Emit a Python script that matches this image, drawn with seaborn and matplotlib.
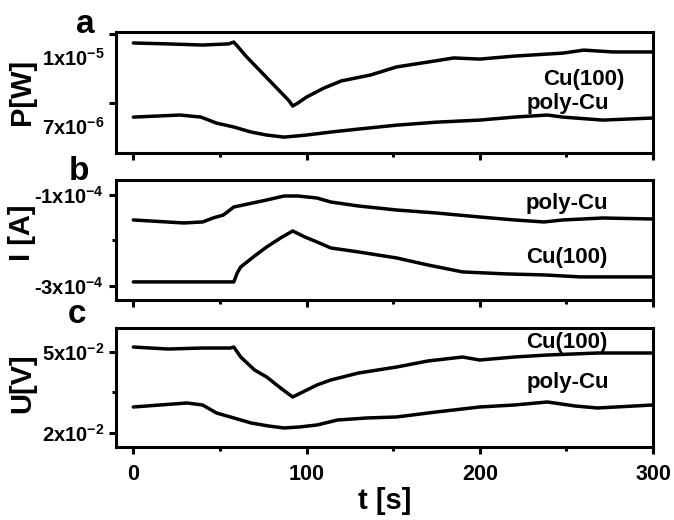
import numpy as np
import pandas as pd
import seaborn as sns
import matplotlib.pyplot as plt
import matplotlib.transforms as mtransforms
from matplotlib.ticker import MultipleLocator, FixedLocator

# ---- data ----
# panel a: P [W]
t_a_cu = [0, 20, 40, 55, 58, 60, 65, 70, 80, 90, 92, 95, 100, 110, 120, 137, 152,
          170, 185, 200, 220, 248, 260, 277, 300]
p_cu = [9.61e-6, 9.57e-6, 9.52e-6, 9.57e-6, 9.65e-6, 9.48e-6, 9.04e-6, 8.65e-6,
        7.87e-6, 7.09e-6, 6.87e-6, 7.00e-6, 7.26e-6, 7.65e-6, 7.96e-6, 8.22e-6,
        8.57e-6, 8.78e-6, 8.96e-6, 8.91e-6, 9.04e-6, 9.17e-6, 9.30e-6, 9.22e-6, 9.22e-6]
t_a_poly = [0, 27, 39, 48, 58, 68, 77, 87, 100, 114, 130, 152, 175, 200, 220, 239,
            248, 271, 300]
p_poly = [6.39e-6, 6.48e-6, 6.39e-6, 6.13e-6, 5.96e-6, 5.74e-6, 5.61e-6, 5.52e-6,
          5.61e-6, 5.74e-6, 5.87e-6, 6.04e-6, 6.17e-6, 6.26e-6, 6.39e-6, 6.48e-6,
          6.39e-6, 6.26e-6, 6.35e-6]

# panel b: I [A]
t_b_poly = [0, 29, 40, 46, 52, 58, 77, 87, 95, 106, 114, 130, 152, 175, 200, 220,
            237, 248, 271, 300]
i_poly = [-1.549e-4, -1.615e-4, -1.593e-4, -1.506e-4, -1.44e-4, -1.264e-4, -1.110e-4,
          -1.022e-4, -1.022e-4, -1.066e-4, -1.154e-4, -1.242e-4, -1.330e-4, -1.396e-4,
          -1.484e-4, -1.549e-4, -1.593e-4, -1.549e-4, -1.506e-4, -1.528e-4]
t_b_cu = [0, 30, 56, 58, 60, 62, 70, 77, 85, 92, 99, 106, 114, 130, 152, 170, 190,
          215, 237, 258, 300]
i_cu = [-2.912e-4, -2.912e-4, -2.912e-4, -2.912e-4, -2.714e-4, -2.583e-4, -2.341e-4,
        -2.143e-4, -1.945e-4, -1.791e-4, -1.923e-4, -2.033e-4, -2.165e-4, -2.253e-4,
        -2.385e-4, -2.539e-4, -2.692e-4, -2.736e-4, -2.758e-4, -2.802e-4, -2.802e-4]

# panel c: U [V]
t_c_cu = [0, 20, 40, 56, 58, 62, 70, 77, 85, 92, 99, 106, 114, 130, 152, 170, 190,
          200, 220, 239, 268, 300]
u_cu = [0.05185, 0.05111, 0.05148, 0.05148, 0.05185, 0.04815, 0.04333, 0.04074,
        0.03667, 0.03333, 0.03556, 0.03778, 0.03963, 0.04222, 0.04444, 0.04667,
        0.04815, 0.04704, 0.04815, 0.04889, 0.04963, 0.04963]
t_c_poly = [0, 31, 40, 48, 58, 68, 78, 87, 96, 106, 118, 135, 152, 175, 200, 220,
            239, 255, 268, 300]
u_poly = [0.02963, 0.03111, 0.03037, 0.02741, 0.02556, 0.02370, 0.02259, 0.02185,
          0.02222, 0.02296, 0.02481, 0.02556, 0.02593, 0.02778, 0.02963, 0.03037,
          0.03148, 0.03000, 0.02926, 0.03037]

x_ticks = [0, 100, 200, 300]
x_tick_labels = ['0', '100', '200', '300']

sns.set_style('ticks')
plt.rcParams['font.family'] = ['Liberation Sans', 'DejaVu Sans']
plt.rcParams['font.weight'] = 'bold'
plt.rcParams['text.color'] = 'black'
plt.rcParams['xtick.color'] = 'black'
plt.rcParams['ytick.color'] = 'black'
plt.rcParams['axes.labelcolor'] = 'black'
plt.rcParams['mathtext.fontset'] = 'custom'
plt.rcParams['mathtext.rm'] = 'Liberation Sans:bold'
plt.rcParams['mathtext.bf'] = 'Liberation Sans:bold'
plt.rcParams['mathtext.default'] = 'bf'

fig = plt.figure(figsize=(6.74, 5.2), dpi=100)
W, H = 674, 520


def make_ax(top_px, bottom_px):
    return fig.add_axes([116 / W, 1 - bottom_px / H, (653 - 116) / W, (bottom_px - top_px) / H])


ax_a = make_ax(32, 153)
ax_b = make_ax(180, 300)
ax_c = make_ax(328, 447)

lw = 2.5
sns.lineplot(x=t_a_cu, y=p_cu, ax=ax_a, color='black', lw=lw)
sns.lineplot(x=t_a_poly, y=p_poly, ax=ax_a, color='black', lw=lw)
sns.lineplot(x=t_b_poly, y=i_poly, ax=ax_b, color='black', lw=lw)
sns.lineplot(x=t_b_cu, y=i_cu, ax=ax_b, color='black', lw=lw)
sns.lineplot(x=t_c_cu, y=u_cu, ax=ax_c, color='black', lw=lw)
sns.lineplot(x=t_c_poly, y=u_poly, ax=ax_c, color='black', lw=lw)

for ax in (ax_a, ax_b, ax_c):
    ax.set_xlim(-10, 300)
    ax.xaxis.set_major_locator(FixedLocator(x_ticks))
    ax.xaxis.set_minor_locator(MultipleLocator(50))
    for s in ax.spines.values():
        s.set_linewidth(2.2)
        s.set_color('black')
    ax.tick_params(which='major', direction='out', length=5, width=2.2, labelsize=14.5,
                   color='black', labelcolor='black')
    ax.tick_params(which='minor', direction='out', length=3, width=2.2, color='black')
    ax.tick_params(axis='x', which='major', pad=7)
    ax.set_xlabel('')
    ax.set_ylabel('')
    if ax is not ax_c:
        ax.set_xticklabels([])

ax_c.set_xticklabels(x_tick_labels, fontsize=15.5, fontweight='bold')

# panel a
ax_a.set_ylim(4.83e-6, 1.0087e-5)
ax_a.set_yticks([1e-5, 7e-6])
ax_a.set_yticklabels([r'1x10$^{-5}$', r'7x10$^{-6}$'], fontsize=14.5)
off = mtransforms.ScaledTranslation(0, -0.23, fig.dpi_scale_trans)
for tick in ax_a.yaxis.get_major_ticks():
    tick.label1.set_transform(tick.label1.get_transform() + off)

# panel b
ax_b.set_ylim(-3.31e-4, -0.67e-4)
ax_b.set_yticks([-1e-4, -3e-4])
ax_b.set_yticks([-2e-4], minor=True)
ax_b.set_yticklabels([r'-1x10$^{-4}$', r'-3x10$^{-4}$'], fontsize=14.5)

# panel c
ax_c.set_ylim(0.0148, 0.0589)
ax_c.set_yticks([0.05, 0.02])
ax_c.set_yticks([0.035], minor=True)
ax_c.set_yticklabels([r'5x10$^{-2}$', r'2x10$^{-2}$'], fontsize=14.5)

# curve names
lab = dict(fontsize=16, fontweight='bold', ha='center', va='center')
ax_a.text(260, 8.02e-6, 'Cu(100)', **lab)
ax_a.text(251, 7.0e-6, 'poly-Cu', **lab)
ax_b.text(250, -1.18e-4, 'poly-Cu', **lab)
ax_b.text(250, -2.37e-4, 'Cu(100)', **lab)
ax_c.text(250, 0.0534, 'Cu(100)', **lab)
ax_c.text(251, 0.0386, 'poly-Cu', **lab)

ax_c.set_xlabel('t [s]', fontsize=21, fontweight='bold', labelpad=2)

# axis names and panel letters
ylab = dict(rotation=90, ha='center', va='center', fontsize=21, fontweight='bold')
fig.text(22 / W, 1 - 92 / H, 'P[W]', **ylab)
fig.text(22 / W, 1 - 233 / H, 'I [A]', **ylab)
fig.text(22 / W, 1 - 383 / H, 'U[V]', **ylab)
let = dict(ha='center', va='baseline', fontsize=24, fontweight='bold')
fig.text(85 / W, 1 - 33 / H, 'a', **let)
fig.text(79 / W, 1 - 180 / H, 'b', **let)
fig.text(77 / W, 1 - 323 / H, 'c', **let)

fig.savefig('out.png', dpi=100)
